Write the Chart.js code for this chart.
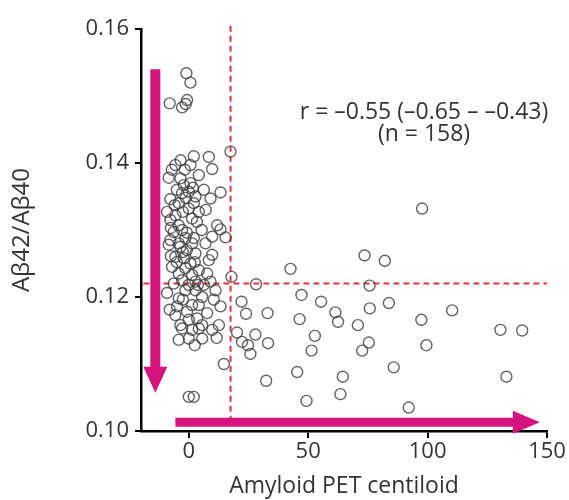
<!DOCTYPE html>
<html><head><meta charset="utf-8">
<script src="https://cdn.jsdelivr.net/npm/chart.js@4/dist/chart.umd.min.js"></script>
<style>html,body{margin:0;padding:0;background:#fff}</style>
</head><body>
<canvas id="c" width="569" height="500"></canvas>
<script>
// Low-centiloid cluster
const clusterCentiloid = [
  -1.0, 0.7, -8.0, -0.7, -2.8, -1.3,
  17.5, 2.1, 8.4, -5.6, 0.7, 9.8, -1.7, -3.5, 0.7, 13.3, 9.1, -7.7, -2.8, 2.8, -4.2, 0, -5.6, 4.2, 1.4, -7.7, -9.1, 11.9, 13.3, -2.8, -0.8, 9.8, 15.4, -7.7, -4.2, -1.4,
  -2.1, -5.0, 1.7, -1.3, -5.9, 2.1, -2.5, 3.4, -4.2, 5.4, -6.3, 2.1, -8.4, 4.2,
  -8.4, -3.5, 1.4, 7.0, 2.8, -5.6, -2.1, 9.8, 8.4, 0.7, -7.0, -1.4, 4.2, -4.2, 1.4, 7.7, -2.8, 2.8, -6.3, 9.1, 6.3, -9.1, -1.4, 2.8, 11.2, -4.2, 5.6, 13.3, 1.4, -0.7, -4.9, -5.6, 3.5, 7.7, 0, -3.5, 5.6, 12.6, 1.4,
  -0.8, -5.0, 2.5, 0, -2.5, 4.2,
  -2.8, 4.2, 9.8, 0, -4.2, 5.6, 11.7, 14.7, 0, 2.1,
  -3.4, -7.1, 6.3, 0, -7.5, 7.1, -2.5, -7.5, 3.8, 10.5, -8.0, 2.5
];
const clusterRatio = [
  0.1534, 0.1520, 0.1489, 0.1494, 0.1483, 0.1488,
  0.1417, 0.1410, 0.1409, 0.1397, 0.1397, 0.1391, 0.1390, 0.1377, 0.1370, 0.1356, 0.1347, 0.1346, 0.1355, 0.1350, 0.1340, 0.1332, 0.1322, 0.1327, 0.1317, 0.1315, 0.1327, 0.1307, 0.1301, 0.1300, 0.1296, 0.1290, 0.1289, 0.1285, 0.1280, 0.1288,
  0.1367, 0.1360, 0.1363, 0.1348, 0.1337, 0.1340, 0.1327, 0.1312, 0.1307, 0.1300, 0.1297, 0.1288, 0.1378, 0.1382,
  0.1278, 0.1275, 0.1280, 0.1280, 0.1265, 0.1260, 0.1258, 0.1263, 0.1255, 0.1250, 0.1245, 0.1243, 0.1240, 0.1235, 0.1233, 0.1235, 0.1225, 0.1223, 0.1220, 0.1223, 0.1218, 0.1206, 0.1210, 0.1210, 0.1210, 0.1198, 0.1200, 0.1186, 0.1188, 0.1178, 0.1186, 0.1173, 0.1168, 0.1176, 0.1166, 0.1158, 0.1158, 0.1158, 0.1151,
  0.1270, 0.1252, 0.1252, 0.1218, 0.1196, 0.1188,
  0.1153, 0.1153, 0.1151, 0.1138, 0.1136, 0.1138, 0.1139, 0.1100, 0.1051, 0.1051,
  0.1404, 0.1390, 0.1360, 0.1357, 0.1303, 0.1330, 0.1267, 0.1261, 0.1218, 0.1196, 0.1181, 0.1128
];
// Higher-centiloid spread
const spreadCentiloid = [
  97.7, 73.6, 82.1, 42.6, 17.9, 28.2, 75.7, 47.2, 22.1, 55.4, 83.8, 110.3, 24.0, 33.0, 61.4, 75.8, 46.4, 62.5, 70.8, 97.4,
  130.5, 139.6, 20.2, 27.9, 22.3, 24.8, 33.2, 52.8, 75.4, 72.6, 99.5, 51.4, 25.8, 85.8, 45.4, 64.5, 133.0, 32.4, 63.5, 49.3, 92.1
];
const spreadRatio = [
  0.1332, 0.1262, 0.1254, 0.1242, 0.1230, 0.1219, 0.1217, 0.1203, 0.1193, 0.1193, 0.1191, 0.1180, 0.1175, 0.1176, 0.1177, 0.1183, 0.1167, 0.1163, 0.1158, 0.1166,
  0.1151, 0.1150, 0.1147, 0.1144, 0.1133, 0.1128, 0.1131, 0.1142, 0.1132, 0.1120, 0.1128, 0.1120, 0.1115, 0.1095, 0.1088, 0.1081, 0.1081, 0.1075, 0.1055, 0.1045, 0.1035
];
const xTickValues = [0, 50, 100, 150];
const yTickValues = [0.10, 0.12, 0.14, 0.16];
const cutoffCentiloid = 17.5;
const cutoffRatio = 0.122;
const statLines = ['r = \u20130.55 (\u20130.65 \u2013 \u20130.43)', '(n = 158)'];

const points = clusterCentiloid.map((v, i) => ({x: v, y: clusterRatio[i]}))
  .concat(spreadCentiloid.map((v, i) => ({x: v, y: spreadRatio[i]})));

const FONT = '"Open Sans", "Noto Sans", sans-serif';
const MAGENTA = '#d4137d';

function arrow(ctx, x0, y0, x1, y1, shaftW, headLen, headW) {
  const dx = x1 - x0, dy = y1 - y0, L = Math.hypot(dx, dy);
  const ux = dx / L, uy = dy / L, nx = -uy, ny = ux;
  const bx = x1 - ux * headLen, by = y1 - uy * headLen;
  ctx.beginPath();
  ctx.moveTo(x0 + nx * shaftW / 2, y0 + ny * shaftW / 2);
  ctx.lineTo(bx + nx * shaftW / 2, by + ny * shaftW / 2);
  ctx.lineTo(bx + nx * headW / 2, by + ny * headW / 2);
  ctx.lineTo(x1, y1);
  ctx.lineTo(bx - nx * headW / 2, by - ny * headW / 2);
  ctx.lineTo(bx - nx * shaftW / 2, by - ny * shaftW / 2);
  ctx.lineTo(x0 - nx * shaftW / 2, y0 - ny * shaftW / 2);
  ctx.closePath();
  ctx.fill();
}

const overlay = {
  id: 'overlay',
  beforeDatasetsDraw(chart) {
    const {ctx, scales: {x, y}} = chart;
    ctx.save();
    ctx.strokeStyle = '#e2333f';
    ctx.lineWidth = 2;
    ctx.setLineDash([6, 4]);
    ctx.beginPath();
    const vx = x.getPixelForValue(cutoffCentiloid);
    ctx.moveTo(vx, y.getPixelForValue(0.1605));
    ctx.lineTo(vx, y.getPixelForValue(0.1015));
    const hy = y.getPixelForValue(cutoffRatio);
    ctx.moveTo(x.getPixelForValue(-19), hy);
    ctx.lineTo(x.getPixelForValue(150), hy);
    ctx.stroke();
    ctx.restore();
  },
  afterDatasetsDraw(chart) {
    const {ctx, scales: {x, y}} = chart;
    ctx.save();
    ctx.fillStyle = MAGENTA;
    const ax = x.getPixelForValue(-14);
    arrow(ctx, ax, y.getPixelForValue(0.154), ax, y.getPixelForValue(0.1057), 10, 26, 24);
    const ay = y.getPixelForValue(0.1013);
    arrow(ctx, x.getPixelForValue(-5.6), ay, x.getPixelForValue(147), ay, 9, 27, 23);
    ctx.fillStyle = '#333';
    ctx.font = '23px ' + FONT;
    ctx.textAlign = 'center';
    ctx.textBaseline = 'middle';
    const tx = x.getPixelForValue(98.5);
    ctx.fillText(statLines[0], tx, y.getPixelForValue(0.1476));
    ctx.fillText(statLines[1], tx, y.getPixelForValue(0.1442));
    ctx.restore();
  }
};

new Chart(document.getElementById('c'), {
  type: 'scatter',
  data: {
    datasets: [{
      data: points,
      pointRadius: 5.5,
      pointHoverRadius: 5.5,
      pointBorderWidth: 1.4,
      borderColor: 'rgba(60,60,60,0.8)',
      backgroundColor: 'rgba(0,0,0,0)'
    }]
  },
  options: {
    responsive: false,
    animation: false,
    devicePixelRatio: 1,
    layout: {padding: {top: 29, right: 22, left: 0, bottom: 0}},
    plugins: {legend: {display: false}, tooltip: {enabled: false}},
    scales: {
      x: {
        type: 'linear', min: -20, max: 150,
        afterBuildTicks: s => { s.ticks = xTickValues.map(v => ({value: v})); },
        afterFit: s => { s.height = 69; },
        grid: {display: true, drawOnChartArea: false, drawTicks: true, tickLength: 7, color: '#000', lineWidth: 2},
        border: {display: true, color: '#000', width: 2.5},
        ticks: {font: {size: 22, family: FONT}, color: '#333', padding: 1, maxRotation: 0},
        title: {display: true, text: 'Amyloid PET centiloid', font: {size: 23, family: FONT}, color: '#333', padding: {top: 0, bottom: 0}}
      },
      y: {
        type: 'linear', min: 0.10, max: 0.16,
        afterBuildTicks: s => { s.ticks = yTickValues.map(v => ({value: v})); },
        afterFit: s => { s.width = 141; },
        grid: {display: true, drawOnChartArea: false, drawTicks: true, tickLength: 6, color: '#000', lineWidth: 2},
        border: {display: true, color: '#000', width: 2.5},
        ticks: {font: {size: 22, family: FONT}, color: '#333', padding: 6, callback: v => v.toFixed(2)},
        title: {display: true, text: 'A\u03b242/A\u03b240', font: {size: 24, family: FONT}, color: '#333', padding: {top: 8, bottom: 0}}
      }
    }
  },
  plugins: [overlay]
});
</script>
</body></html>
